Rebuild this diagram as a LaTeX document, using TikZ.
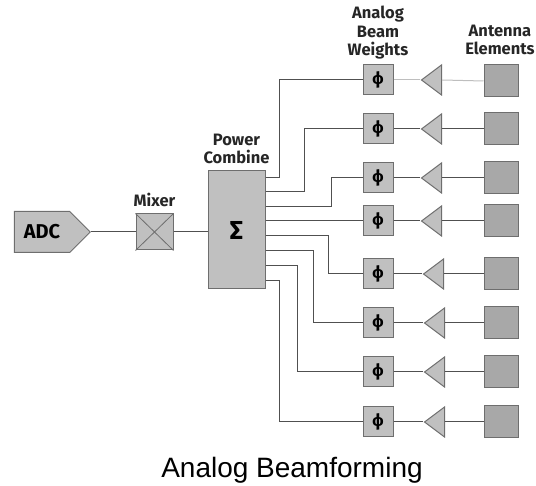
\documentclass[tikz,border=0pt]{standalone}
\usepackage{fontspec}
\setmainfont{Fira Sans}
\newfontfamily\titlefont{Liberation Sans}
\usetikzlibrary{shapes.geometric,shapes.symbols}
\definecolor{boxgray}{RGB}{192,192,192}
\definecolor{antgray}{RGB}{168,168,168}
\definecolor{edgegray}{RGB}{110,110,110}
\definecolor{wiregray}{RGB}{80,80,80}
\definecolor{fadegray}{RGB}{190,190,190}

\begin{document}
\begin{tikzpicture}[x = 1pt, y = -1pt,
  blockbox/.style = {draw = edgegray, fill = boxgray, line width = 1pt, inner sep = 0pt},
  phasebox/.style = {blockbox, minimum width = 30pt, minimum height = 30pt, font = \fontsize{17}{17}\selectfont\bfseries},
  ampbox/.style = {blockbox, isosceles triangle, isosceles triangle stretches, shape border rotate = 180, minimum width = 30pt, minimum height = 20pt},
  antbox/.style = {blockbox, fill = antgray, minimum width = 34pt, minimum height = 32pt},
  caption/.style = {font = \fontsize{16.5}{18.5}\selectfont\bfseries, align = center, text = black!85},
  wire/.style = {draw = wiregray, line width = 1pt}]
\useasboundingbox (0,0) rectangle (536,486);
% chain on the left
\node [blockbox, signal, signal to = east, signal pointer angle = 90, minimum width = 76pt, minimum height = 41pt, font = \fontsize{20}{20}\selectfont\bfseries] (adc) at (42, 232) {ADC};
\node [blockbox, minimum width = 37pt, minimum height = 36pt] (mix) at (154.5, 232) {};
\draw [edgegray, line width = .8pt] (mix.north west) -- (mix.south east);
\draw [edgegray, line width = .8pt] (mix.south west) -- (mix.north east);
\node [blockbox, minimum width = 57pt, minimum height = 118pt, font = \fontsize{26}{26}\selectfont\bfseries] (sum) at (236.5, 230) {Σ};
\node [caption] (mixlbl) at (154.5, 200) {Mixer};
\node [caption] (sumlbl) at (236.5, 149) {Power\\Combine};
\node [caption] (bwlbl) at (378, 33) {Analog\\Beam\\Weights};
\node [caption] (antlbl) at (500, 40) {Antenna\\Elements};
\draw [wire] (adc.east) -- (mix.west);
\draw [wire] (mix.east) -- (mix.east -| sum.west);
% phase shifters
\node [phasebox] (p1) at (378, 80) {ϕ};
\node [phasebox] (p2) at (378, 129) {ϕ};
\node [phasebox] (p3) at (378, 178) {ϕ};
\node [phasebox] (p4) at (378, 221) {ϕ};
\node [phasebox] (p5) at (378, 274) {ϕ};
\node [phasebox] (p6) at (378, 323) {ϕ};
\node [phasebox] (p7) at (378, 372) {ϕ};
\node [phasebox] (p8) at (378, 422) {ϕ};
% amplifiers
\node [ampbox] (a1) at (434, 80) {};
\node [ampbox] (a2) at (434, 129) {};
\node [ampbox] (a3) at (434, 178) {};
\node [ampbox] (a4) at (434, 221) {};
\node [ampbox] (a5) at (436, 274) {};
\node [ampbox] (a6) at (437, 323) {};
\node [ampbox] (a7) at (437, 372) {};
\node [ampbox] (a8) at (437, 422) {};
% antenna elements
\node [antbox] (e1) at (501, 81) {};
\node [antbox] (e2) at (501, 129) {};
\node [antbox] (e3) at (501, 178) {};
\node [antbox] (e4) at (501, 221) {};
\node [antbox] (e5) at (501, 274) {};
\node [antbox] (e6) at (501, 323) {};
\node [antbox] (e7) at (501, 372) {};
\node [antbox] (e8) at (501, 422) {};
% combiner outputs
\draw [wire] (sum.east |- 0,178) -- ++(14,0) |- (p1.west);
\draw [wire] (sum.east |- 0,192) -- ++(39,0) |- (p2.west);
\draw [wire] (sum.east |- 0,207) -- ++(66,0) |- (p3.west);
\draw [wire] (sum.east |- p4) -- (p4.west);
\draw [wire] (sum.east |- 0,236) -- ++(63,0) |- (p5.west);
\draw [wire] (sum.east |- 0,251) -- ++(48,0) |- (p6.west);
\draw [wire] (sum.east |- 0,266) -- ++(32,0) |- (p7.west);
\draw [wire] (sum.east |- 0,281) -- ++(14,0) |- (p8.west);
% phase -- amplifier -- antenna
\draw [wire, draw = fadegray] (p1.east) -- (a1.apex);
\draw [wire, draw = fadegray] (a1.east) -- (e1.west);
\draw [wire] (p2.east) -- (a2.apex);
\draw [wire] (a2.east) -- (e2.west);
\draw [wire] (p3.east) -- (a3.apex);
\draw [wire] (a3.east) -- (e3.west);
\draw [wire] (p4.east) -- (a4.apex);
\draw [wire] (a4.east) -- (e4.west);
\draw [wire] (p5.east) -- (a5.apex);
\draw [wire] (a5.east) -- (e5.west);
\draw [wire] (p6.east) -- (a6.apex);
\draw [wire] (a6.east) -- (e6.west);
\draw [wire] (p7.east) -- (a7.apex);
\draw [wire] (a7.east) -- (e7.west);
\draw [wire] (p8.east) -- (a8.apex);
\draw [wire] (a8.east) -- (e8.west);
\node [font = \fontsize{28}{28}\selectfont\titlefont, anchor = base] (title) at (292, 478) {Analog Beamforming};
\end{tikzpicture}
\end{document}
